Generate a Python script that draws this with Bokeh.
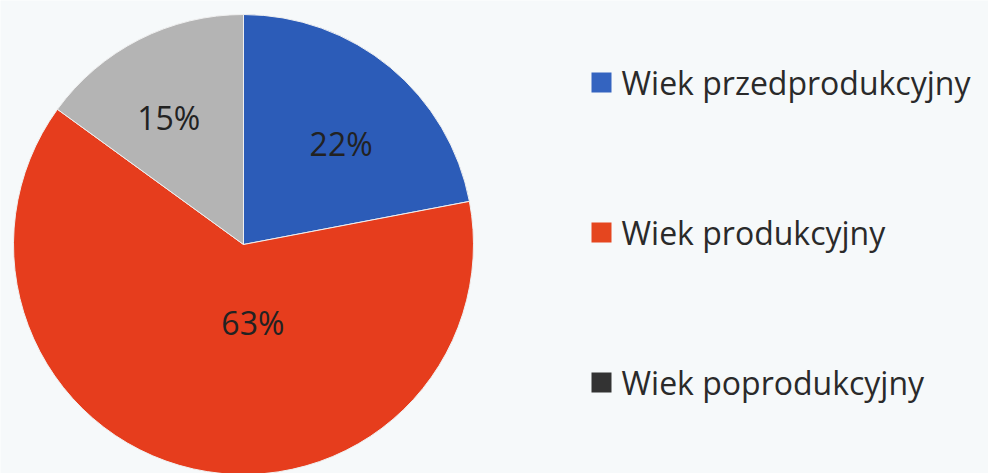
import math
from bokeh.plotting import figure
from bokeh.models import Range1d, ColumnDataSource
from bokeh.core.properties import value
from bokeh.embed import file_html
from bokeh.resources import INLINE

# ---- data ----
categories = ["Wiek przedprodukcyjny", "Wiek produkcyjny", "Wiek poprodukcyjny"]
shares = [22, 63, 15]
slice_colors = ["#2c5cb8", "#e63d1d", "#b4b4b4"]
legend_colors = ["#3464c0", "#e5461f", "#333333"]

W, H = 988, 473
p = figure(width=W, height=H, output_backend="svg", toolbar_location=None,
           x_range=Range1d(0, W), y_range=Range1d(0, H), min_border=0,
           background_fill_color="#f6f9fa", border_fill_color="#f6f9fa")
p.axis.visible = False
p.grid.visible = False
p.outline_line_color = None

cx, cy, r = 243, 229, 230
total = sum(shares)
starts, ends, mids = [], [], []
a = math.pi / 2
for s in shares:
    span = 2 * math.pi * s / total
    starts.append(a)
    ends.append(a - span)
    mids.append(a - span / 2)
    a -= span

src = ColumnDataSource(dict(start=starts, end=ends, color=slice_colors))
p.wedge(x=cx, y=cy, radius=r, start_angle="start", end_angle="end",
        direction="clock", fill_color="color", line_color="#f0f0f0",
        line_width=1, source=src)

# label placement (fraction of radius, angle tweak in degrees)
lab_rf = [0.61, 0.34, 0.64]
lab_da = [-4.5, 19.5, 3.5]
lx = [cx + rf * r * math.cos(m + math.radians(d)) for m, rf, d in zip(mids, lab_rf, lab_da)]
ly = [cy + rf * r * math.sin(m + math.radians(d)) for m, rf, d in zip(mids, lab_rf, lab_da)]
labels = [f"{s}%" for s in shares]
p.text(x=lx, y=ly, text=labels, text_align="center", text_baseline="middle",
       text_font=value("Open Sans"), text_font_size="32px", text_color="#222222")

# legend
leg_x, leg_top, leg_step = 601, 391, 150
leg_y = [leg_top - i * leg_step for i in range(len(categories))]
p.scatter(x=[leg_x] * len(categories), y=leg_y, marker="square", size=20,
          fill_color=legend_colors, line_color=None)
p.text(x=[leg_x + 20] * len(categories), y=leg_y, text=categories,
       text_align="left", text_baseline="middle",
       text_font=value("Open Sans"), text_font_size="32px", text_color="#2a2a2a")

open("out.html", "w").write(file_html(p, INLINE))
